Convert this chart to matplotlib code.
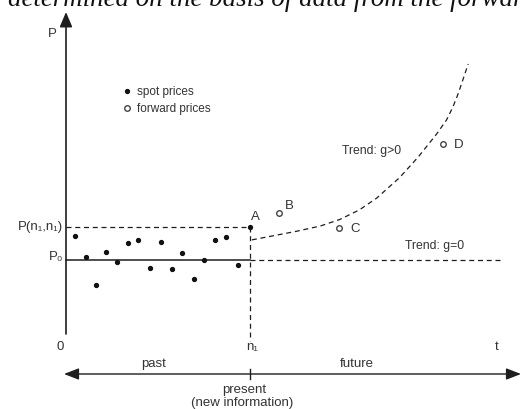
import matplotlib
matplotlib.use("Agg")
import matplotlib.pyplot as plt

# spot prices in the past (t, price), P0 = 0, P(n,n) = 1
spot_t = [0.83, 1.84, 2.76, 3.68, 4.69, 5.70, 6.62, 7.73, 8.74, 9.75, 10.67, 11.78, 12.70, 13.71, 14.72, 15.82]
spot_p = [0.73, 0.09, -0.76, 0.24, -0.06, 0.52, 0.61, -0.24, 0.55, -0.27, 0.21, -0.58, 0.0, 0.61, 0.70, -0.15]

n_now = 16.9
p_now = 1.0
p_zero = 0.0

# forward prices B, C, D
fwd_names = ["B", "C", "D"]
fwd_t = [19.6, 25.1, 34.7]
fwd_p = [1.42, 0.97, 3.52]

# trend g>0
trend_t = [17.1, 19.0, 21.2, 23.4, 25.2, 27.0, 28.6, 30.7, 32.4, 34.1, 35.0, 35.6, 36.1, 36.5, 37.0]
trend_p = [0.61, 0.73, 0.87, 1.03, 1.23, 1.52, 1.88, 2.50, 3.12, 3.82, 4.24, 4.64, 5.06, 5.45, 5.94]
flat_end = 40.1

W, H = 520, 409
X0, XS = 66, 10.87   # pixel of t=0, pixels per t unit
Y0, YS = 260, 33.0   # pixel of P0, pixels per price unit


def px(x, y):
    return (x - X0) / XS, (Y0 - y) / YS


fig = plt.figure(figsize=(W / 100, H / 100), dpi=100)
ax = fig.add_axes([0, 0, 1, 1])
ax.set_xlim(px(0, 0)[0], px(W, 0)[0])
ax.set_ylim(px(0, H)[1], px(0, 0)[1])
ax.axis("off")

ink = "#1e1e1e"
txt = "#333333"
sans = "Liberation Sans"
fs = 9.5
dash = (0, (4, 3))
head = "-|>,head_length=0.9,head_width=0.38"

t_axis_y = px(0, 334)[1]
p_axis_top = px(0, 12)[1]
t_axis_end = px(521, 0)[0]

# axes with arrows
ax.annotate("", xy=(0, p_axis_top), xytext=(0, t_axis_y),
            arrowprops=dict(arrowstyle=head, lw=1.2, color=ink, shrinkA=0, shrinkB=0))
ax.annotate("", xy=(t_axis_end, t_axis_y), xytext=(0, t_axis_y),
            arrowprops=dict(arrowstyle=head, lw=1.2, color=ink, shrinkA=0, shrinkB=0))

# P0 line and g=0 trend
ax.plot([0, n_now], [p_zero, p_zero], color=ink, lw=1.1)
ax.plot([n_now, flat_end], [p_zero, p_zero], color=ink, lw=0.9, ls=dash)
# P(n,n) and present
ax.plot([0, n_now], [p_now, p_now], color=ink, lw=0.9, ls=dash)
ax.plot([n_now, n_now], [p_now, px(0, 341)[1]], color=ink, lw=0.9, ls=dash)
# g>0 trend
ax.plot(trend_t, trend_p, color=ink, lw=0.9, ls=dash)

ax.plot(spot_t + [n_now], spot_p + [p_now], ls="none", marker="o", ms=2.8, color="#111111",
        label="spot prices")
ax.plot(fwd_t, fwd_p, ls="none", marker="o", ms=4, mfc="white", mec="#444444", mew=1.0,
        label="forward prices")

ax.legend(loc="upper left", bbox_to_anchor=(122 / W, 1 - 86 / H), frameon=False,
          prop={"family": sans, "size": 8.5}, handlelength=0.9, handletextpad=0.4,
          labelspacing=0.45, borderpad=0, borderaxespad=0, labelcolor=txt)

# point labels
ax.text(*px(255, 217), "A", ha="center", va="center", family=sans, fontsize=fs, color=txt)
for name, t, p in zip(fwd_names, fwd_t, fwd_p):
    ax.annotate(name, (t, p), xytext=(4, 5) if name == "B" else (8, -1),
                textcoords="offset points", ha="left", va="center",
                family=sans, fontsize=fs, color=txt)

ax.text(*px(342, 151), "Trend: g>0", ha="left", va="center", family=sans, fontsize=8.8, color=txt)
ax.text(*px(405, 246), "Trend: g=0", ha="left", va="center", family=sans, fontsize=8.8, color=txt)

# axis labels
ax.text(*px(63, 227), "P(n\u2081,n\u2081)", ha="right", va="center", family=sans, fontsize=fs, color=txt)
ax.text(*px(63, 257), "P\u2080", ha="right", va="center", family=sans, fontsize=fs, color=txt)
ax.text(*px(52, 34), "P", ha="center", va="center", family=sans, fontsize=fs, color=txt)
ax.text(*px(60, 347), "0", ha="center", va="center", family=sans, fontsize=fs, color=txt)
ax.text(*px(252, 347), "n\u2081", ha="center", va="center", family=sans, fontsize=fs, color=txt)
ax.text(*px(497, 347), "t", ha="center", va="center", family=sans, fontsize=fs, color=txt)

# time line past / future
tl_y = px(0, 374)[1]
ax.annotate("", xy=(px(64, 0)[0], tl_y), xytext=(t_axis_end, tl_y),
            arrowprops=dict(arrowstyle="<|-|>,head_length=0.9,head_width=0.35", lw=1.0, color=ink,
                            shrinkA=0, shrinkB=0))
ax.plot([n_now, n_now], [px(0, 369)[1], px(0, 379)[1]], color=ink, lw=1.0)
ax.text(*px(154, 364), "past", ha="center", va="center", family=sans, fontsize=fs, color=txt)
ax.text(*px(357, 364), "future", ha="center", va="center", family=sans, fontsize=fs, color=txt)
ax.text(*px(244, 390), "present", ha="center", va="center", family=sans, fontsize=fs, color=txt)
ax.text(*px(242, 403), "(new information)", ha="center", va="center", family=sans, fontsize=fs, color=txt)

# cut-off line of body text at the top
ax.text(*px(8, 6), "determined on the basis of data from the forward", ha="left", va="baseline",
        family="Liberation Serif", style="italic", fontsize=19.4, color="#111111")

fig.savefig("out.png", dpi=100)
